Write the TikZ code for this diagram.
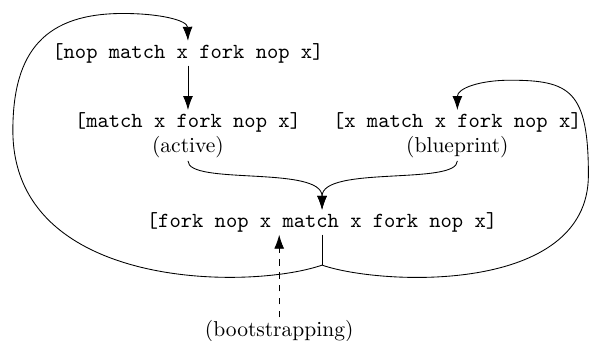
\documentclass[tikz,border=0pt]{standalone}
\usepackage{tikz}
\usetikzlibrary{arrows.meta}

\begin{document}
\begin{tikzpicture}[>={Latex[length=6.5pt, width=4.6pt]}, code/.style={font=\ttfamily, inner sep=1pt}, tag/.style={inner sep=1pt}]
\useasboundingbox (0, 0) rectangle (9.62, 5.56);

% Strings
\node[code] (seed) at (3.07, 4.69) {[nop match x fork nop x]};
\node[code] (active) at (3.07, 3.56) {[match x fork nop x]};
\node[tag] (activetag) at (3.07, 3.15) {(active)};
\node[code] (blueprint) at (7.47, 3.56) {[x match x fork nop x]};
\node[tag] (blueprinttag) at (7.47, 3.15) {(blueprint)};
\node[code] (result) at (5.26, 1.93) {[fork nop x match x fork nop x]};
\node[tag] (boot) at (4.56, 0.16) {(bootstrapping)};

\coordinate (split) at (5.26, 1.23);

% Copy
\draw[->] (seed.south) -- (active.north);
\draw[->] (activetag.south) .. controls (3.07, 2.53) and (5.26, 2.86) .. (result.north);
\draw[->] (blueprinttag.south) .. controls (7.47, 2.53) and (5.26, 2.86) .. (result.north);

% Bootstrapping
\draw[->, dashed] (boot.north) -- (boot.north |- result.south);

% Loops back
\draw (result.south) -- (split);
\draw[->] (split) .. controls (4.08, 0.82) and (0.21, 0.82) .. (0.21, 3.43)
  .. controls (0.21, 4.74) and (0.75, 5.34) .. (2.01, 5.34)
  .. controls (2.61, 5.34) and (3.06, 5.23) .. (seed.north);
\draw[->] (split) .. controls (6.21, 0.90) and (9.61, 0.74) .. (9.61, 2.70)
  .. controls (9.61, 4.08) and (9.31, 4.25) .. (8.33, 4.25)
  .. controls (7.84, 4.25) and (7.47, 4.12) .. (blueprint.north);
\end{tikzpicture}
\end{document}
